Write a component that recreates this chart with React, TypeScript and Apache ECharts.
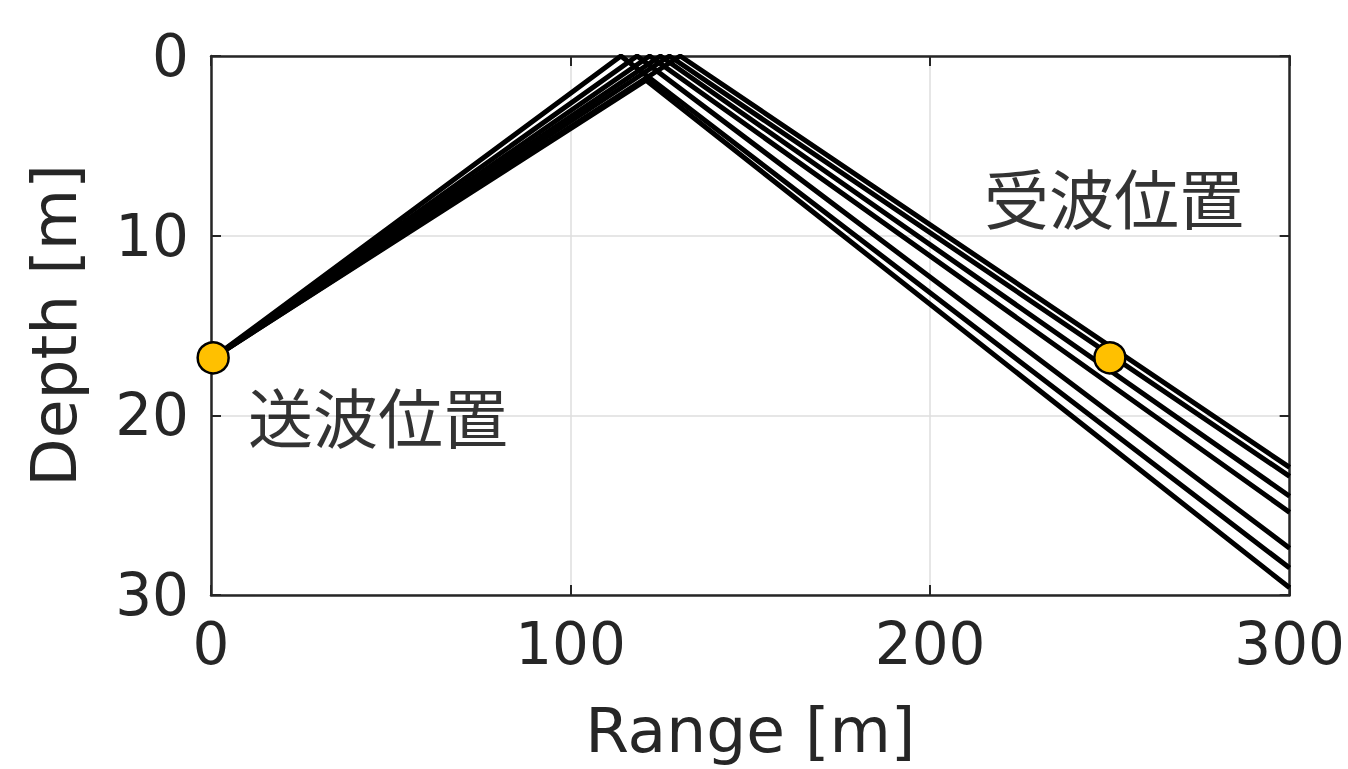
import React, { useEffect, useRef } from "react";
import * as echarts from "echarts";

// Axis ranges / ticks
const rangeTicks = [0, 100, 200, 300];
const depthTicks = [0, 10, 20, 30];

// Source and receiver positions [range m, depth m]
const sourcePos = [0.6, 16.8];
const receiverPos = [250, 16.8];

// Rays: surface reflection point and depth at the right edge (range 300 m)
const reflRange = [130.5, 127.5, 125, 122, 118.5, 114, 121];
const reflDepth = [0, 0, 0, 0, 0, 0, 1.35];
const endRange = 300;
const endDepth = [22.9, 23.4, 24.5, 25.4, 27.4, 28.5, 29.6];

// Annotations
const labelTexts = ["送波位置", "受波位置"];
const labelPos = [
  [10.3, 20.0],
  [215.0, 7.8],
];

const numFont = "'DejaVu Sans', Verdana, sans-serif";
const jpFont = "'Noto Sans CJK JP', 'Noto Sans', sans-serif";
const textColor = "#262626";

export default function App() {
  const ref = useRef<HTMLDivElement>(null);
  useEffect(() => {
    document.body.style.margin = "0";
    const chart = echarts.init(ref.current!, null, { renderer: "svg" });
    const raySeries = reflRange.map((rx, i) => ({
      type: "line",
      name: "ray" + i,
      data: [
        [sourcePos[0], sourcePos[1]],
        [rx, reflDepth[i]],
        [endRange, endDepth[i]],
      ],
      symbol: "none",
      lineStyle: { color: "#000", width: 5 },
      z: 2,
      silent: true,
    }));
    const xCommon = {
      type: "value",
      min: rangeTicks[0],
      max: rangeTicks[rangeTicks.length - 1],
      interval: 100,
    };
    const yCommon = {
      type: "value",
      min: depthTicks[0],
      max: depthTicks[depthTicks.length - 1],
      interval: 10,
      inverse: true,
    };
    chart.setOption({
      animation: false,
      backgroundColor: "#fff",
      grid: { left: 211, right: 58, top: 56, bottom: 174, containLabel: false },
      xAxis: [
        {
          ...xCommon,
          position: "bottom",
          name: "Range [m]",
          nameLocation: "middle",
          nameGap: 104,
          nameTextStyle: { fontFamily: numFont, fontSize: 63, color: textColor },
          axisLine: { show: true, onZero: false, lineStyle: { color: textColor, width: 2.5 } },
          axisTick: { show: true, inside: true, length: 10, lineStyle: { color: textColor, width: 2 } },
          axisLabel: { fontFamily: numFont, fontSize: 58, color: textColor, margin: 20 },
          splitLine: { show: true, lineStyle: { color: "#dedede", width: 1.5 } },
        },
        {
          ...xCommon,
          position: "top",
          axisLine: { show: true, onZero: false, lineStyle: { color: textColor, width: 2.5 } },
          axisTick: { show: true, inside: true, length: 10, lineStyle: { color: textColor, width: 2 } },
          axisLabel: { show: false },
          splitLine: { show: false },
        },
      ],
      yAxis: [
        {
          ...yCommon,
          position: "left",
          name: "Depth [m]",
          nameLocation: "middle",
          nameGap: 125,
          nameRotate: 90,
          nameTextStyle: { fontFamily: numFont, fontSize: 63, color: textColor },
          axisLine: { show: true, onZero: false, lineStyle: { color: textColor, width: 2.5 } },
          axisTick: { show: true, inside: true, length: 10, lineStyle: { color: textColor, width: 2 } },
          axisLabel: { fontFamily: numFont, fontSize: 58, color: textColor, margin: 22 },
          splitLine: { show: true, lineStyle: { color: "#dedede", width: 1.5 } },
        },
        {
          ...yCommon,
          position: "right",
          axisLine: { show: true, onZero: false, lineStyle: { color: textColor, width: 2.5 } },
          axisTick: { show: true, inside: true, length: 10, lineStyle: { color: textColor, width: 2 } },
          axisLabel: { show: false },
          splitLine: { show: false },
        },
      ],
      series: [
        ...raySeries,
        {
          type: "scatter",
          name: "positions",
          data: [sourcePos, receiverPos],
          symbol: "circle",
          symbolSize: 31,
          itemStyle: { color: "#FFC000", borderColor: "#000", borderWidth: 2.5, opacity: 1 },
          z: 5,
          silent: true,
        },
        {
          type: "scatter",
          name: "labels",
          data: labelPos.map((p, i) => ({ value: p, name: labelTexts[i] })),
          symbolSize: 0,
          silent: true,
          label: {
            show: true,
            position: "right",
            distance: 0,
            formatter: (p: any) => p.name,
            fontFamily: jpFont,
            fontSize: 65,
            color: "#000",
          },
          z: 6,
        },
      ],
    });
    return () => chart.dispose();
  }, []);
  return (
    <div
      ref={ref}
      style={{ position: "absolute", left: 0, top: 0, width: 1348, height: 769 }}
    />
  );
}
